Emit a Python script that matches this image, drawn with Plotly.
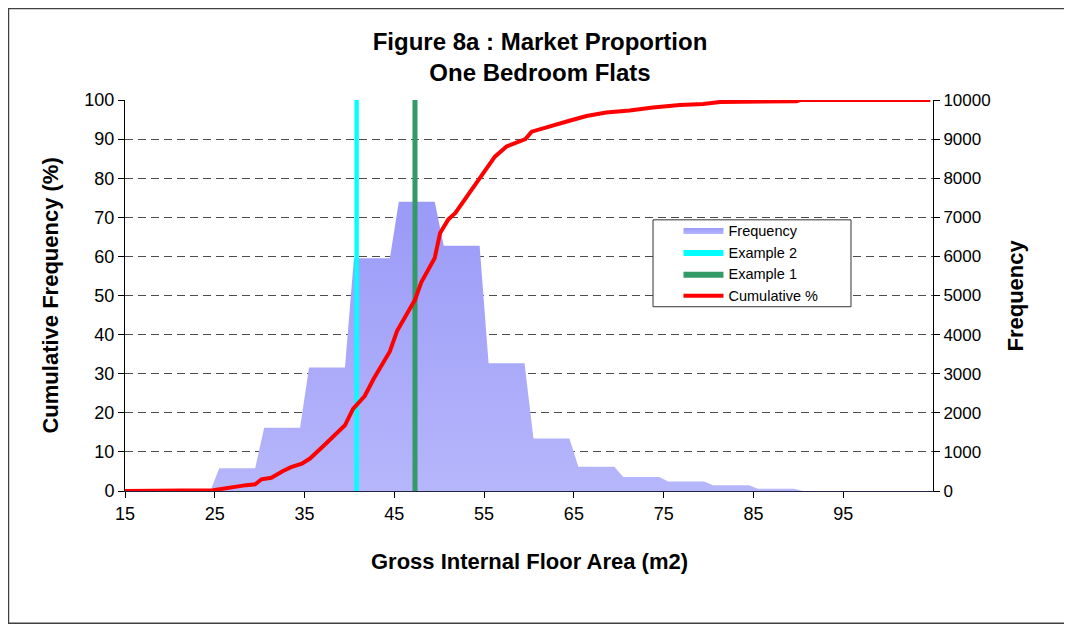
import plotly.graph_objects as go

# ------------------------------------------------------------
# data
# ------------------------------------------------------------
# frequency histogram: 5 m2 bins (start of bin) and counts
bin_starts = [15, 20, 25, 30, 35, 40, 45, 50, 55, 60, 65, 70, 75, 80, 85, 90, 95, 100]
freq = [0, 0, 580, 1620, 3160, 5950, 7400, 6270, 3270, 1340, 620, 360, 240, 150, 60, 0, 0, 0]

# cumulative % curve
cum_x = [15, 24.8, 28.5, 29.5, 30.2, 31.3, 32.6, 33.5, 34.7, 35.6, 37.1, 38.6, 39.5,
         40.4, 41.7, 42.7, 44.5, 45.3, 46.4, 47.3, 48.0, 48.8, 49.5, 50.1, 51.0,
         51.8, 53.1, 54.7, 56.2, 57.5, 59.0, 59.6, 60.3, 62.7, 64.5, 66.4, 68.6,
         71.2, 73.8, 76.8, 79.4, 81.3, 85.0, 89.8, 90.2, 104.7]
cum_y = [0, 0.2, 1.5, 1.7, 3.0, 3.4, 5.1, 6.1, 7.0, 8.3, 11.5, 14.9, 16.8,
         21.0, 24.3, 28.7, 35.7, 40.9, 45.5, 48.9, 53.4, 56.8, 59.6, 66.0, 69.4,
         71.1, 75.3, 80.9, 85.5, 88.1, 89.4, 90.0, 91.9, 93.6, 94.7, 95.9, 96.8,
         97.3, 98.1, 98.7, 99.0, 99.5, 99.6, 99.7, 100, 100]

# example flats (floor area, m2)
example2_x = 40.8
example1_x = 47.3

x_ticks = [15, 25, 35, 45, 55, 65, 75, 85, 95]

FONT = "Arial, Liberation Sans, sans-serif"

# Excel-style area: each bin is flat, with a short ramp between bins
ramp = 0.5
area_x, area_y = [15], [0]
for b, v in zip(bin_starts, freq):
    area_x += [b + ramp, b + 5 - ramp]
    area_y += [v, v]


def band(xc, half):
    """thin vertical band from 0 to 100 % around xc"""
    return [xc - half, xc + half, xc + half, xc - half, xc - half], [0, 0, 100, 100, 0]


fig = go.Figure()

# Frequency (right axis) on the base subplot -> drawn under everything
fig.add_trace(go.Scatter(
    x=area_x, y=area_y, name="Frequency",
    mode="lines", line=dict(width=0, color="#a6a6fa"),
    fill="tozeroy",
    fillgradient=dict(type="vertical",
                      colorscale=[[0, "#b6b6fb"], [1, "#9a9af8"]],
                      start=0, stop=7400),
    yaxis="y",
))

# example markers as thin bands spanning 0-100 %
bx, by = band(example2_x, 0.24)
fig.add_trace(go.Scatter(
    x=bx, y=by, name="Example 2", mode="lines",
    line=dict(width=0, color="#00ffff"), fill="toself", fillcolor="#00ffff",
    yaxis="y2",
))
bx, by = band(example1_x, 0.28)
fig.add_trace(go.Scatter(
    x=bx, y=by, name="Example 1", mode="lines",
    line=dict(width=0, color="#339966"), fill="toself", fillcolor="#339966",
    yaxis="y2",
))

# cumulative % (left axis)
fig.add_trace(go.Scatter(
    x=cum_x, y=cum_y, name="Cumulative %",
    mode="lines", line=dict(color="#ff0000", width=4),
    yaxis="y2",
))

# page body has an 8px margin, so the figure is shifted by 8px
fig.update_layout(
    width=1064, height=618,
    margin=dict(l=117, r=139, t=92, b=134.5),
    paper_bgcolor="white", plot_bgcolor="white",
    font=dict(family=FONT, color="black", size=18),
    hovermode=False,
    title=dict(
        text="<b>Figure 8a : Market Proportion<br>One Bedroom Flats</b>",
        x=0.5, xanchor="center", xref="container",
        y=1 - 42 / 618, yanchor="top", yref="container",
        font=dict(size=24, family=FONT),
    ),
    xaxis=dict(
        range=[15, 105], tickvals=x_ticks,
        showline=True, linecolor="#222244", linewidth=1,
        ticks="outside", ticklen=6, tickcolor="black",
        showgrid=False, zeroline=False,
        tickfont=dict(size=18),
    ),
    yaxis=dict(
        range=[0, 10000], dtick=1000, side="right", tickformat="d",
        showline=True, linecolor="black", linewidth=1,
        ticks="outside", ticklen=6, tickcolor="black",
        showgrid=True, gridcolor="#4d4d4d", griddash="8px,5px", gridwidth=1,
        zeroline=False, tickfont=dict(size=17),
    ),
    yaxis2=dict(
        range=[0, 100], dtick=10, side="left", overlaying="y",
        showline=True, linecolor="black", linewidth=1,
        ticks="outside", ticklen=6, tickcolor="black",
        showgrid=False, zeroline=False, tickfont=dict(size=18),
    ),
    legend=dict(
        x=0.685, y=0.708, xanchor="left", yanchor="top",
        borderwidth=0, bgcolor="rgba(0,0,0,0)",
        font=dict(size=14.5, family=FONT),
        itemwidth=40, tracegroupgap=0, traceorder="normal",
    ),
    annotations=[
        dict(text="<b>Cumulative Frequency (%)</b>", textangle=-90,
             xref="paper", yref="paper", x=-0.0928, y=0.5,
             xanchor="center", yanchor="middle", showarrow=False,
             font=dict(size=22)),
        dict(text="<b>Frequency</b>", textangle=-90,
             xref="paper", yref="paper", x=1.1015, y=0.5,
             xanchor="center", yanchor="middle", showarrow=False,
             font=dict(size=22)),
        dict(text="<b>Gross Internal Floor Area (m2)</b>",
             xref="paper", yref="paper", x=0.5, y=-0.18,
             xanchor="center", yanchor="middle", showarrow=False,
             font=dict(size=22)),
    ],
    shapes=[
        # legend frame
        dict(type="rect", xref="paper", yref="paper", layer="above",
             x0=0.6535, x1=0.8985, y0=0.4713, y1=0.6935,
             line=dict(color="#333333", width=1), fillcolor="white"),
        # outer chart border
        dict(type="rect", xref="paper", yref="paper",
             x0=-0.1442, x1=1.1671, y0=-0.3384, y1=1.2337,
             line=dict(color="#404040", width=1.5)),
    ],
)

fig.write_html("out.html")
